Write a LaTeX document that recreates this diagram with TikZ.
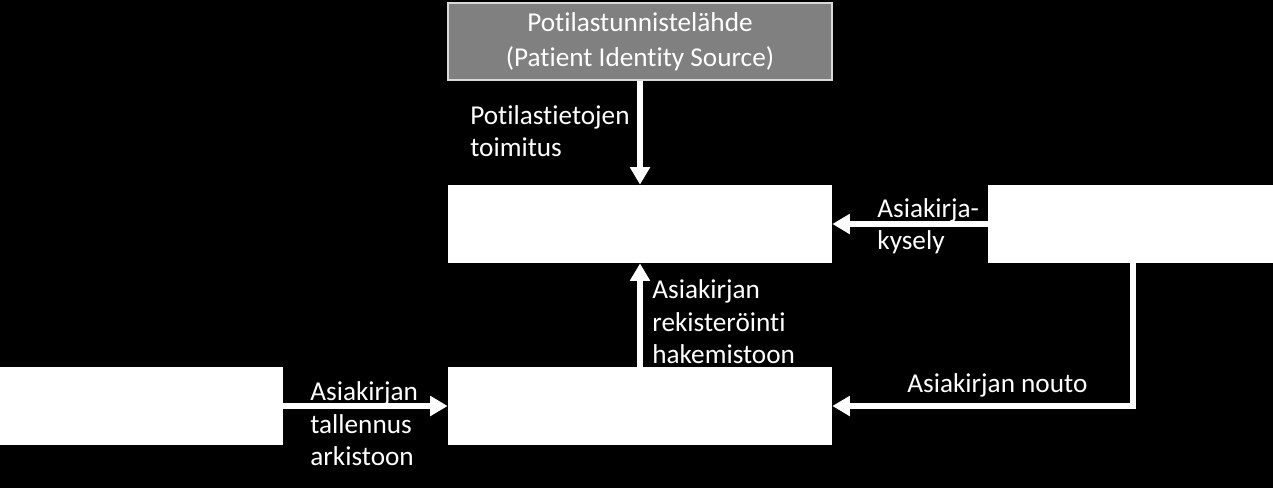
\documentclass[tikz,border=0pt]{standalone}
\usepackage{fontspec}
\setmainfont{Carlito}[Ligatures=NoCommon]
\usetikzlibrary{arrows.meta}
\tikzset{
	box/.style={fill=white, minimum height=1.56cm, inner sep=0pt},
	srcbox/.style={fill=black!50, draw=black!15, line width=1pt, minimum width=7.68cm, minimum height=1.54cm, align=center, text=white, font=\fontsize{15.5}{20}\selectfont},
	lbl/.style={text=white, align=left, inner sep=0pt, anchor=west, font=\fontsize{15.5}{18.5}\selectfont},
	flow/.style={white, line width=3pt, -{Triangle[length=10pt, width=11pt]}}
}
\begin{document}
\begin{tikzpicture}[x=0.02cm, y=-0.02cm]
			\fill[black] (0,0) rectangle (1273,488);
			\useasboundingbox (0,0) rectangle (1273,488);
			% boxes
			\node[srcbox] (pis) at (640,41.5) {Potilastunnistelähde\\(Patient Identity Source)};
			\node[box, minimum width=7.68cm] (reg) at (640,224) {};
			\node[box, minimum width=5.7cm] (cons) at (1130.5,224) {};
			\node[box, minimum width=7.68cm] (repo) at (640,406) {};
			\node[box, minimum width=5.66cm] (src) at (141.5,406) {};
			\coordinate (turn) at (1133,406);
			% arrows
			\draw[flow] (pis.south) -- (reg.north);
			\draw[flow] (repo.north) -- (reg.south);
			\draw[flow] (cons.west) -- (reg.east);
			\draw[flow] (cons.south -| turn) |- (repo.east);
			\draw[flow] (src.east) -- (repo.west);
			% labels
			\node[lbl] (l1) at (470,131) {Potilastietojen\\toimitus};
			\node[lbl] (l2) at (652,322) {Asiakirjan\\rekisteröinti\\hakemistoon};
			\node[lbl] (l3) at (877,226) {Asiakirja-\\kysely};
			\node[lbl] (l4) at (907,385) {Asiakirjan nouto};
			\node[lbl] (l5) at (310,424) {Asiakirjan\\tallennus\\arkistoon};
		\end{tikzpicture}
\end{document}
